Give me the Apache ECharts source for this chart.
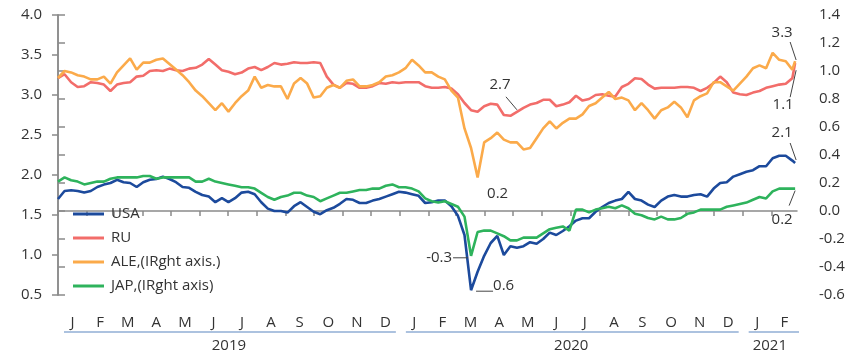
<!DOCTYPE html>
<html>
<head>
<meta charset="utf-8">
<script src="https://cdn.jsdelivr.net/npm/echarts@6/dist/echarts.min.js"></script>
<style>
html, body { margin: 0; padding: 0; background: #fff; }
#chart { width: 857px; height: 356px; }
</style>
</head>
<body>
<div id="chart"></div>
<script>
// weekly samples, day offset from 2019-01-01 (last one = latest close)
var days = [];
for (var i = 0; i < 113; i++) days.push(i * 7);
days.push(787);

// left axis
var usa = [1.70,1.80,1.81,1.80,1.78,1.80,1.85,1.88,1.90,1.94,
  1.91,1.90,1.85,1.91,1.94,1.95,1.98,1.95,1.91,1.85,
  1.84,1.79,1.75,1.73,1.66,1.71,1.66,1.71,1.78,1.79,
  1.76,1.66,1.58,1.55,1.55,1.53,1.61,1.66,1.60,1.54,
  1.51,1.56,1.59,1.64,1.70,1.69,1.65,1.65,1.68,1.70,
  1.73,1.76,1.79,1.78,1.76,1.74,1.65,1.66,1.68,1.68,
  1.61,1.49,1.25,0.56,0.79,0.99,1.15,1.24,1.00,1.11,
  1.09,1.11,1.16,1.14,1.20,1.28,1.25,1.30,1.36,1.43,
  1.46,1.46,1.54,1.60,1.65,1.68,1.70,1.79,1.70,1.68,
  1.63,1.60,1.68,1.73,1.75,1.73,1.73,1.75,1.76,1.73,
  1.83,1.90,1.91,1.98,2.01,2.04,2.06,2.11,2.11,2.21,
  2.24,2.24,2.18,2.15];
var ru = [3.21,3.26,3.16,3.10,3.11,3.16,3.15,3.13,3.05,3.13,
  3.15,3.16,3.23,3.24,3.30,3.31,3.30,3.33,3.31,3.30,
  3.33,3.34,3.38,3.45,3.38,3.31,3.29,3.26,3.28,3.33,
  3.35,3.31,3.35,3.40,3.38,3.39,3.41,3.40,3.40,3.41,
  3.40,3.23,3.13,3.09,3.15,3.14,3.09,3.09,3.11,3.15,
  3.14,3.16,3.15,3.16,3.16,3.16,3.11,3.09,3.09,3.10,
  3.08,3.01,2.90,2.81,2.79,2.86,2.89,2.88,2.75,2.74,
  2.79,2.84,2.88,2.90,2.94,2.94,2.86,2.88,2.91,2.99,
  2.93,2.95,3.00,3.01,2.99,2.98,3.10,3.14,3.21,3.20,
  3.13,3.08,3.09,3.09,3.09,3.10,3.10,3.09,3.05,3.09,
  3.15,3.23,3.16,3.03,3.01,3.00,3.03,3.05,3.09,3.11,
  3.13,3.14,3.21,3.40];
// right axis
var ale = [0.95,1.00,0.99,0.97,0.96,0.94,0.94,0.96,0.91,0.99,
  1.04,1.09,1.01,1.06,1.06,1.08,1.09,1.05,1.01,0.97,
  0.92,0.86,0.82,0.77,0.72,0.77,0.71,0.77,0.82,0.86,
  0.96,0.88,0.90,0.89,0.89,0.80,0.91,0.95,0.91,0.81,
  0.82,0.88,0.90,0.88,0.93,0.94,0.89,0.89,0.90,0.92,
  0.96,0.97,0.99,1.02,1.08,1.04,0.99,0.99,0.96,0.94,
  0.86,0.81,0.59,0.45,0.24,0.49,0.52,0.56,0.51,0.49,
  0.49,0.44,0.45,0.52,0.59,0.64,0.59,0.63,0.66,0.66,
  0.69,0.75,0.77,0.81,0.85,0.80,0.81,0.79,0.72,0.77,
  0.72,0.66,0.72,0.74,0.78,0.74,0.67,0.79,0.82,0.84,
  0.92,0.92,0.89,0.86,0.91,0.96,1.02,1.04,1.02,1.13,
  1.08,1.07,1.01,1.07];
var jap = [0.21,0.24,0.22,0.21,0.19,0.20,0.21,0.21,0.23,0.24,
  0.24,0.24,0.24,0.25,0.25,0.23,0.24,0.24,0.24,0.24,
  0.24,0.21,0.21,0.23,0.21,0.20,0.19,0.18,0.17,0.17,
  0.16,0.13,0.10,0.08,0.10,0.11,0.13,0.13,0.11,0.10,
  0.07,0.09,0.11,0.13,0.13,0.14,0.15,0.15,0.16,0.16,
  0.18,0.19,0.17,0.17,0.16,0.14,0.09,0.07,0.06,0.07,
  0.05,0.03,-0.04,-0.32,-0.15,-0.14,-0.14,-0.16,-0.18,-0.21,
  -0.21,-0.19,-0.19,-0.19,-0.16,-0.13,-0.12,-0.11,-0.14,0.01,
  0.01,-0.01,0.01,0.02,0.03,0.02,0.04,0.02,-0.02,-0.03,
  -0.05,-0.06,-0.04,-0.06,-0.06,-0.05,-0.02,-0.01,0.01,0.01,
  0.01,0.01,0.03,0.04,0.05,0.06,0.08,0.10,0.09,0.14,
  0.16,0.16,0.16,0.16];

var seriesNames = ['USA', 'RU', 'ALE,(IRght axis.)', 'JAP,(IRght axis)'];
var monthLetters = ['J','F','M','A','M','J','J','A','S','O','N','D'];
var years = ['2019', '2020', '2021'];

// annotations: series, point index, label, offsets of text and leader line (px)
var notes = [
  {s: 1, i: 70, text: '2.7', tx: -17, ty: -27, line: [-11, -15, 0, -2]},
  {s: 2, i: 64, text: '0.2', tx: 20, ty: 16, line: null},
  {s: 3, i: 63, text: '-0.3', tx: -19, ty: 2, align: 'right', line: [-18, 2, -3, 2]},
  {s: 0, i: 63, text: '0.6', tx: 22, ty: -4, align: 'left', line: [5, 1, 22, 1]},
  {s: 1, i: 113, text: '3.3', tx: -13, ty: -30, line: [-5, -21, 1, -3]},
  {s: 2, i: 113, text: '1.1', tx: -12, ty: 44, line: [-5, 36, 1, 9]},
  {s: 0, i: 113, text: '2.1', tx: -13, ty: -30, line: [-5, -20, 1, -3]},
  {s: 3, i: 113, text: '0.2', tx: -13, ty: 31, line: [-6, 17, 0, 2]}
];

var DAY = 86400000;
var t0 = Date.UTC(2019, 0, 1);
var xMax = 789;
var monthStarts = [], monthMids = [], midLetter = {};
for (var m = 0; m < 26; m++) {
  var a = (Date.UTC(2019, m, 1) - t0) / DAY;
  var b = Math.min((Date.UTC(2019, m + 1, 1) - t0) / DAY, xMax);
  monthStarts.push(a);
  var mid = (a + b) / 2;
  monthMids.push(mid);
  midLetter[String(mid)] = monthLetters[m % 12];
}
var yearStarts = [0, 365, 731];
var yearEnds = [365, 731, xMax];
var yearMids = [], midYear = {};
for (var y = 0; y < 3; y++) {
  var c = (yearStarts[y] + yearEnds[y]) / 2;
  yearMids.push(c);
  midYear[String(c)] = years[y];
}

var font = 'Open Sans';
var txt = '#333';
var axisGrey = '#8a8a8a';
var colors = ['#1c4a9c', '#f26d6a', '#fbaa4a', '#2eb35c'];
var allData = [usa, ru, ale, jap];

function pairs(vals) {
  return vals.map(function (v, k) { return [days[k], v]; });
}

var chart = echarts.init(document.getElementById('chart'));
var option = {
  animation: false,
  color: colors,
  grid: {left: 58, right: 60, top: 15, bottom: 61},
  legend: {
    orient: 'vertical', left: 68, top: 201,
    icon: 'rect', itemWidth: 31, itemHeight: 3, itemGap: 8,
    textStyle: {fontFamily: font, fontSize: 15, color: txt, lineHeight: 16, padding: [0, 0, 0, 2]},
    data: seriesNames
  },
  xAxis: [
    {
      type: 'value', min: 0, max: xMax,
      splitLine: {show: false},
      axisLine: {lineStyle: {color: axisGrey, width: 1.5}},
      axisTick: {customValues: monthStarts, length: 5, lineStyle: {color: axisGrey, width: 1.5}},
      axisLabel: {
        customValues: monthMids, margin: 20,
        fontFamily: font, fontSize: 15, color: txt,
        formatter: function (v) { return midLetter[String(v)] || ''; }
      }
    },
    {
      type: 'value', min: 0, max: xMax, position: 'bottom', offset: 38,
      splitLine: {show: false}, axisLine: {show: false}, axisTick: {show: false},
      axisLabel: {
        customValues: yearMids, margin: 5,
        fontFamily: font, fontSize: 15, color: txt,
        formatter: function (v) { return midYear[String(v)] || ''; }
      }
    }
  ],
  yAxis: [
    {
      type: 'value', min: 0.5, max: 4, interval: 0.5,
      splitLine: {show: false},
      axisLine: {show: true, lineStyle: {color: axisGrey, width: 1.5}},
      axisTick: {show: true, length: 6, lineStyle: {color: axisGrey, width: 1.5}},
      axisLabel: {margin: 16, fontFamily: font, fontSize: 15, color: txt,
        formatter: function (v) { return v.toFixed(1); }}
    },
    {
      type: 'value', min: -0.6, max: 1.4, interval: 0.2, position: 'right',
      splitLine: {show: false},
      axisLine: {show: true, lineStyle: {color: axisGrey, width: 1.5}},
      axisTick: {show: true, length: 7, lineStyle: {color: axisGrey, width: 1.5}},
      axisLabel: {margin: 22, fontFamily: font, fontSize: 15, color: txt,
        formatter: function (v) { return v.toFixed(1); }}
    }
  ],
  series: seriesNames.map(function (name, s) {
    return {
      name: name, type: 'line', yAxisIndex: s < 2 ? 0 : 1,
      showSymbol: false, symbol: 'none',
      lineStyle: {width: 2.6, color: colors[s]},
      itemStyle: {color: colors[s]},
      data: pairs(allData[s])
    };
  })
};
chart.setOption(option);

// year underlines and annotations
var g = [];
for (var yy = 0; yy < 3; yy++) {
  var x1 = chart.convertToPixel({xAxisIndex: 0}, yearStarts[yy]) + 6;
  var x2 = chart.convertToPixel({xAxisIndex: 0}, yearEnds[yy]) + (yy === 2 ? 2 : -4);
  g.push({type: 'line', shape: {x1: x1, y1: 332, x2: x2, y2: 332},
    style: {stroke: '#5a86bf', lineWidth: 1.2}, silent: true});
}
notes.forEach(function (n) {
  var p = chart.convertToPixel({xAxisIndex: 0, yAxisIndex: n.s < 2 ? 0 : 1},
    [days[n.i], allData[n.s][n.i]]);
  if (n.line) {
    g.push({type: 'line', shape: {x1: p[0] + n.line[0], y1: p[1] + n.line[1], x2: p[0] + n.line[2], y2: p[1] + n.line[3]},
      style: {stroke: '#444', lineWidth: 1}, silent: true, z: 10});
  }
  g.push({type: 'text', x: p[0] + n.tx, y: p[1] + n.ty, z: 10,
    style: {text: n.text, fontFamily: font, fontSize: 15, fill: txt,
      align: n.align || 'center', verticalAlign: 'middle'}});
});
chart.setOption({graphic: g});
</script>
</body>
</html>
